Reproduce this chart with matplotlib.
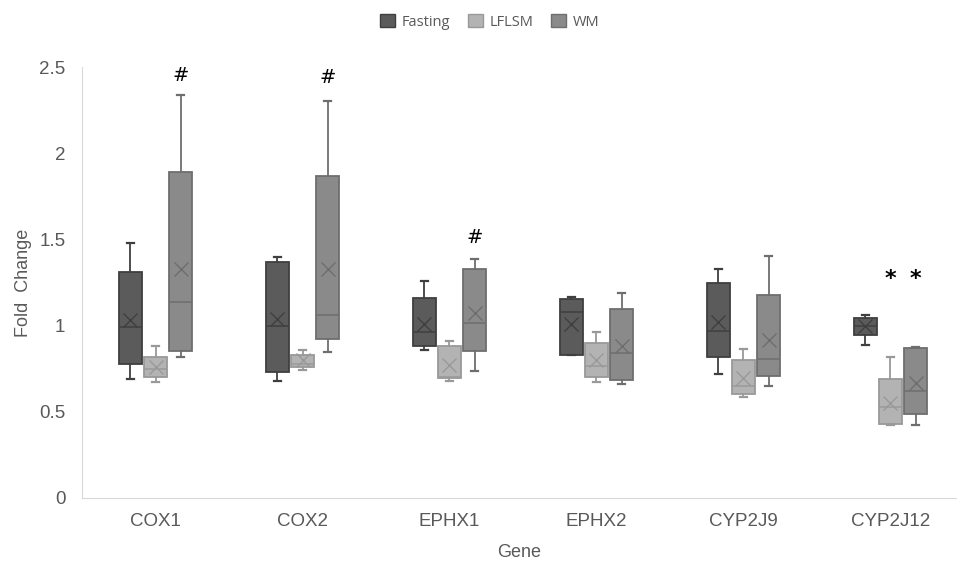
import matplotlib
matplotlib.use("Agg")
import matplotlib.pyplot as plt
from matplotlib.patches import Patch

genes = ["COX1", "COX2", "EPHX1", "EPHX2", "CYP2J9", "CYP2J12"]
groups = ["Fasting", "LFLSM", "WM"]

# per gene: whisker low, q1, median, q3, whisker high, mean
fasting = [
    [0.69, 0.78, 0.99, 1.31, 1.48, 1.03],
    [0.68, 0.73, 1.00, 1.37, 1.40, 1.04],
    [0.86, 0.88, 0.96, 1.16, 1.26, 1.01],
    [0.83, 0.83, 1.08, 1.155, 1.165, 1.01],
    [0.72, 0.82, 0.97, 1.25, 1.33, 1.02],
    [0.89, 0.945, 1.00, 1.045, 1.06, 1.00],
]
lflsm = [
    [0.67, 0.70, 0.75, 0.82, 0.88, 0.76],
    [0.745, 0.76, 0.78, 0.83, 0.86, 0.80],
    [0.68, 0.695, 0.70, 0.88, 0.91, 0.77],
    [0.67, 0.70, 0.765, 0.90, 0.96, 0.80],
    [0.585, 0.605, 0.65, 0.80, 0.865, 0.695],
    [0.425, 0.43, 0.525, 0.69, 0.82, 0.55],
]
wm = [
    [0.815, 0.855, 1.135, 1.89, 2.34, 1.33],
    [0.845, 0.92, 1.06, 1.87, 2.30, 1.33],
    [0.735, 0.85, 1.015, 1.33, 1.385, 1.075],
    [0.66, 0.685, 0.84, 1.095, 1.19, 0.88],
    [0.65, 0.71, 0.805, 1.18, 1.405, 0.915],
    [0.425, 0.485, 0.62, 0.87, 0.875, 0.665],
]

# significance marks: (gene index, group index, label, y)
marks = [
    (0, 2, "#", 2.45),
    (1, 2, "#", 2.44),
    (2, 2, "#", 1.51),
    (5, 1, "*", 1.27),
    (5, 2, "*", 1.27),
]

face_colors = ["#5b5b5b", "#b3b3b3", "#8a8a8a"]
edge_colors = ["#3f3f3f", "#999999", "#6e6e6e"]
text_color = "#595959"

offsets = [-0.172, 0.0, 0.172]
box_w = 0.157

fig = plt.figure(figsize=(9.57, 5.66), dpi=100)
ax = fig.add_axes([82 / 957, 1 - 498 / 566, 1 - 82 / 957, (498 - 67) / 566])

for gi, (data, fc, ec) in enumerate(zip([fasting, lflsm, wm], face_colors, edge_colors)):
    stats = []
    for row in data:
        stats.append(dict(whislo=row[0], q1=row[1], med=row[2], q3=row[3],
                          whishi=row[4], mean=row[5], fliers=[]))
    pos = [i + offsets[gi] for i in range(len(genes))]
    ax.bxp(stats, positions=pos, widths=box_w, patch_artist=True,
           showmeans=True, showfliers=False, capwidths=0.05,
           boxprops=dict(facecolor=fc, edgecolor=ec, linewidth=1.3),
           medianprops=dict(color=ec, linewidth=1.1),
           whiskerprops=dict(color=ec, linewidth=1.3),
           capprops=dict(color=ec, linewidth=1.6),
           meanprops=dict(marker="x", markeredgecolor=ec, markersize=10,
                          markeredgewidth=1.0))

for gene_i, grp_i, label, y in marks:
    ax.text(gene_i + offsets[grp_i], y, label, ha="center", va="center",
            fontsize=14 if label == "#" else 16, color="black",
            fontweight="bold" if label == "*" else "normal", clip_on=False)

ax.set_xlim(-0.5, (957 - 82) / 147 - 0.5)
ax.set_ylim(0, 2.5)
ax.set_xticks(range(len(genes)))
ax.set_xticklabels(genes)
ax.set_yticks([0, 0.5, 1, 1.5, 2, 2.5])
ax.set_yticklabels(["0", "0.5", "1", "1.5", "2", "2.5"])
ax.tick_params(axis="both", length=0, labelsize=13.5, labelcolor=text_color)
ax.tick_params(axis="x", pad=11)
ax.tick_params(axis="y", pad=12)
for lab in ax.get_xticklabels() + ax.get_yticklabels():
    lab.set_fontfamily("Liberation Sans")

for s in ["top", "right"]:
    ax.spines[s].set_visible(False)
ax.spines["left"].set_color("#d9d9d9")
ax.spines["bottom"].set_color("#d9d9d9")

ax.set_xlabel("Gene", fontsize=13, color=text_color, family="Liberation Sans", labelpad=10)
ax.set_ylabel("Fold  Change", fontsize=13, color=text_color, family="Liberation Sans", labelpad=5)

handles = [Patch(facecolor=fc, edgecolor=ec) for fc, ec in zip(face_colors, edge_colors)]
fig.legend(handles, groups, loc="center", bbox_to_anchor=(490 / 957, 1 - 22 / 566),
           ncol=3, frameon=False, prop={"family": "Open Sans", "size": 10.5},
           labelcolor=text_color, handlelength=1.0, handleheight=1.0,
           handletextpad=0.5, columnspacing=1.2)

fig.savefig("out.png", dpi=100)
